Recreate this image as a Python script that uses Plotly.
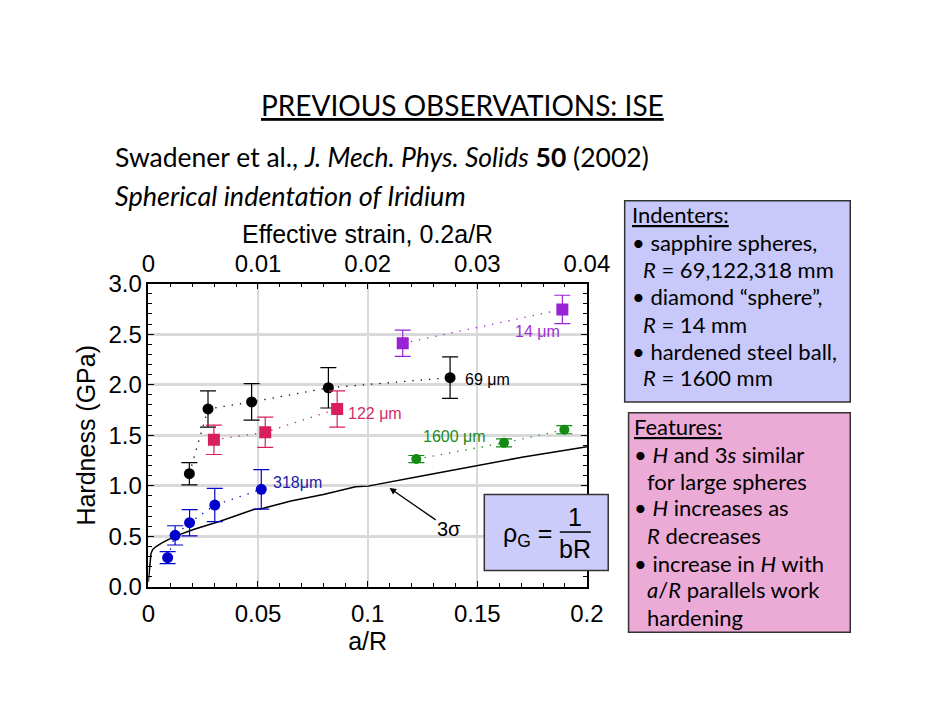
import plotly.graph_objects as go

W, H = 942, 728
PL, PR, PT, PB = 146, 599, 280, 595  # plot area in pixels


def fx(px):
    return px / W


def fy(py):
    return 1 - py / H


# ---------------- data ----------------
ar_318 = [0.0088, 0.0122, 0.0188, 0.0303, 0.0515]
h_318 = [0.29, 0.51, 0.635, 0.81, 0.965]
e_318 = [0.06, 0.095, 0.13, 0.165, 0.195]

ar_69 = [0.0187, 0.0272, 0.0471, 0.0821, 0.1376]
h_69 = [1.12, 1.76, 1.83, 1.97, 2.07]
e_69 = [0.11, 0.18, 0.18, 0.20, 0.205]

ar_122 = [0.0299, 0.0533, 0.0861]
h_122 = [1.455, 1.53, 1.76]
e_122 = [0.145, 0.15, 0.18]

ar_14 = [0.116, 0.1888]
h_14 = [2.41, 2.745]
e_14 = [0.13, 0.14]

ar_1600 = [0.1222, 0.1622, 0.1897]
h_1600 = [1.265, 1.425, 1.555]
e_1600 = [0.035, 0.04, 0.04]

sig_ar = [0.0, 0.0004, 0.0008, 0.0012, 0.002, 0.0035, 0.0062, 0.012, 0.0209, 0.0327,
          0.048, 0.052, 0.065, 0.0798, 0.0945, 0.1001, 0.124, 0.1475, 0.171, 0.2]
sig_h = [0.05, 0.16, 0.28, 0.33, 0.37, 0.40, 0.435, 0.50, 0.57, 0.65,
         0.765, 0.775, 0.85, 0.915, 0.99, 0.997, 1.095, 1.19, 1.285, 1.387]

strain_ticks = [0, 0.01, 0.02, 0.03, 0.04]

series = [
    ("318 μm", ar_318, h_318, e_318, "#0000cc", "circle", 11),
    ("69 μm", ar_69, h_69, e_69, "#000000", "circle", 11),
    ("122 μm", ar_122, h_122, e_122, "#d81e5b", "square", 12),
    ("14 μm", ar_14, h_14, e_14, "#9a22d6", "square", 12),
    ("1600 μm", ar_1600, h_1600, e_1600, "#148a14", "circle", 10),
]

labels = [
    ("318μm", 0.0559, 1.031, "#1c1ca6"),
    ("69 μm", 0.1433, 2.054, "#000000"),
    ("122 μm", 0.0901, 1.714, "#d02e68"),
    ("14 μm", 0.1663, 2.524, "#9a32d2"),
    ("1600 μm", 0.1244, 1.483, "#1e8a1e"),
]

AXF = "Liberation Sans, Arial, sans-serif"
TXF = "Lato, Open Sans, sans-serif"

fig = go.Figure()

fig.add_trace(go.Scatter(x=sig_ar, y=sig_h, mode="lines",
                         line=dict(color="black", width=1.5),
                         name="3σ", hoverinfo="skip"))

for name, xs, ys, es, col, sym, sz in series:
    fig.add_trace(go.Scatter(
        x=xs, y=ys, mode="lines+markers", name=name,
        line=dict(color=col, width=1.3, dash="1.3px,7px"),
        marker=dict(color=col, symbol=sym, size=sz),
        error_y=dict(type="data", array=es, visible=True, color=col,
                     thickness=1.2, width=8),
    ))

# invisible trace to carry the top (strain) axis
fig.add_trace(go.Scatter(x=strain_ticks, y=[0] * len(strain_ticks), xaxis="x2",
                         mode="markers", marker=dict(opacity=0),
                         hoverinfo="skip", showlegend=False))

tickfont = dict(family=AXF, size=24, color="black")
titlefont = dict(family=AXF, size=25, color="black")

fig.update_layout(
    width=W, height=H,
    margin=dict(l=0, r=0, t=0, b=0),
    paper_bgcolor="white", plot_bgcolor="white",
    showlegend=False,
    xaxis=dict(
        domain=[fx(PL), fx(PR)], range=[0, 0.2], tick0=0, dtick=0.05,
        ticks="inside", ticklen=6, tickcolor="black", tickwidth=1,
        showline=True, linecolor="black", linewidth=1.5,
        showgrid=True, gridcolor="#d9d9d9", gridwidth=1.5,
        zeroline=False, tickfont=tickfont, ticklabelstandoff=5,
        minor=dict(dtick=0.01, ticks="inside", ticklen=4, tickcolor="black", showgrid=False),
        title=dict(text="a/R", font=titlefont, standoff=2),
        anchor="y",
    ),
    xaxis2=dict(
        overlaying="x", side="top", anchor="y", range=[0, 0.04], tick0=0, dtick=0.01,
        ticks="inside", ticklen=6, tickcolor="black", tickwidth=1,
        showline=True, linecolor="black", linewidth=1.5,
        showgrid=False, zeroline=False, tickfont=tickfont,
        minor=dict(dtick=0.002, ticks="inside", ticklen=4, tickcolor="black", showgrid=False),
        title=dict(text="Effective strain, 0.2a/R", font=titlefont, standoff=0),
    ),
    yaxis=dict(
        domain=[fy(PB), fy(PT)], range=[0, 3], tick0=0, dtick=0.5, tickformat=".1f",
        ticks="inside", ticklen=6, tickcolor="black", tickwidth=1, mirror="ticks",
        showline=True, linecolor="black", linewidth=1.5,
        showgrid=True, gridcolor="#d9d9d9", gridwidth=3,
        zeroline=False, tickfont=tickfont,
        minor=dict(dtick=0.1, ticks="inside", ticklen=4, tickcolor="black", showgrid=False),
        title=dict(text="Hardness (GPa)", font=titlefont, standoff=6),
    ),
)

ann = []

# series labels
for txt, x, y, col in labels:
    ann.append(dict(x=x, y=y, xref="x", yref="y", text=txt, showarrow=False,
                    xanchor="left", yanchor="middle",
                    font=dict(family=AXF, size=16, color=col)))

# 3 sigma arrow
ann.append(dict(x=0.110, y=0.978, xref="x", yref="y", ax=0.1372, ay=0.571,
                axref="x", ayref="y", text="3σ", showarrow=True, arrowhead=2,
                arrowsize=1, arrowwidth=1.3, arrowcolor="black", standoff=0,
                font=dict(family=AXF, size=20, color="black")))

DY = 5  # glyph-centre correction for slide text

# slide texts
ann.append(dict(x=fx(470), y=fy(100 - DY), xref="paper", yref="paper",
                text="<u>PREVIOUS OBSERVATIONS: ISE</u>", showarrow=False,
                xanchor="center", yanchor="middle",
                font=dict(family=TXF, size=28, color="black")))
ann.append(dict(x=fx(110), y=fy(153 - DY), xref="paper", yref="paper",
                text="Swadener et al., <i>J. Mech. Phys. Solids</i> <b>50</b> (2002)",
                showarrow=False, xanchor="left", yanchor="middle",
                font=dict(family=TXF, size=26.5, color="black")))
ann.append(dict(x=fx(110), y=fy(193 - DY), xref="paper", yref="paper",
                text="<i>Spherical indentation of Iridium</i>",
                showarrow=False, xanchor="left", yanchor="middle",
                font=dict(family=TXF, size=27, color="black")))

# Indenters box
ind_lines = [
    (644, 213, "<u>Indenters:</u>"),
    (644, 242, "• sapphire spheres,"),
    (655, 270, "<i>R</i> = 69,122,318 mm"),
    (644, 298, "• diamond “sphere”,"),
    (655, 327, "<i>R</i> = 14 mm"),
    (644, 356, "• hardened steel ball,"),
    (655, 383, "<i>R</i> = 1600 mm"),
]
feat_lines = [
    (646, 433, "<u>Features:</u>"),
    (646, 462, "• <i>H</i> and 3<i>s</i> similar"),
    (659, 490, "for large spheres"),
    (646, 518, "• <i>H</i> increases as"),
    (659, 547, "<i>R</i> decreases"),
    (646, 576, "• increase in <i>H</i> with"),
    (659, 603, "<i>a</i>/<i>R</i> parallels work"),
    (659, 632, "hardening"),
]
for px, py, t in ind_lines + feat_lines:
    ann.append(dict(x=fx(px), y=fy(py - DY), xref="paper", yref="paper", text=t,
                    showarrow=False, xanchor="left", yanchor="middle",
                    font=dict(family=TXF, size=22, color="black")))

# formula
ffont = dict(family=AXF, size=25, color="black")
ann.append(dict(x=fx(538), y=fy(541), xref="paper", yref="paper",
                text="ρ<sub>G</sub> =", showarrow=False, xanchor="center", yanchor="middle",
                font=ffont))
ann.append(dict(x=fx(587), y=fy(522), xref="paper", yref="paper", text="1",
                showarrow=False, xanchor="center", yanchor="middle", font=ffont))
ann.append(dict(x=fx(587), y=fy(556), xref="paper", yref="paper", text="bR",
                showarrow=False, xanchor="center", yanchor="middle", font=ffont))

fig.update_layout(annotations=ann)

shapes = [
    dict(type="rect", xref="paper", yref="paper", x0=fx(638), x1=fx(871),
         y0=fy(403), y1=fy(194), fillcolor="#c8c8fa",
         line=dict(color="#333333", width=1.5), layer="above"),
    dict(type="rect", xref="paper", yref="paper", x0=fx(642), x1=fx(871),
         y0=fy(642), y1=fy(414), fillcolor="#ecaad6",
         line=dict(color="#333333", width=1.5), layer="above"),
    dict(type="rect", xref="paper", yref="paper", x0=fx(493), x1=fx(621),
         y0=fy(578), y1=fy(499), fillcolor="#ccccfa",
         line=dict(color="#333333", width=1.5), layer="above"),
    dict(type="line", xref="paper", yref="paper", x0=fx(571), x1=fx(603),
         y0=fy(538), y1=fy(538), line=dict(color="black", width=1.5), layer="above"),
]
fig.update_layout(shapes=shapes)

fig.write_html("out.html")
